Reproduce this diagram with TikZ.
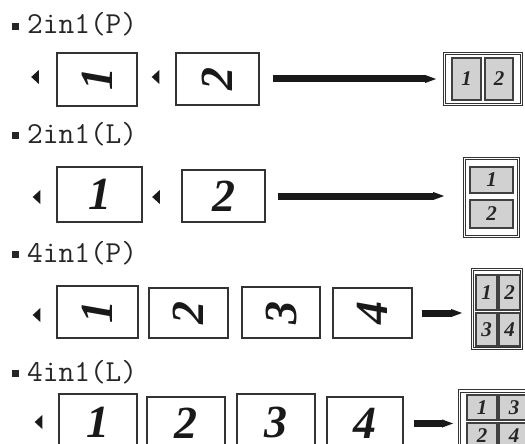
\documentclass[tikz,border=0pt]{standalone}
\usepackage{fontspec}
\setmainfont{Liberation Serif}
\usetikzlibrary{arrows.meta}
\newcommand\bigdig{\fontsize{46}{46}\selectfont\bfseries\itshape}
\newcommand\smdig{\fontsize{21}{21}\selectfont\bfseries\itshape}
\newcommand\lblsize{\ttfamily\fontsize{30.5}{30.5}\selectfont}
\tikzset{
  lbl/.style={anchor=base west, inner sep=0pt, font=\lblsize, text=black!85},
  bul/.style={fill=black!85, minimum size=7.5pt, inner sep=0pt},
  inpage/.style={draw=black!80, line width=1.2pt, inner sep=0pt, font=\bigdig, text=black!90},
  outbox/.style={draw=black!80, double, double distance=1.6pt, line width=0.8pt, inner sep=0pt},
  minipg/.style={draw=black!75, fill=black!18, line width=1.5pt, inner sep=0pt, font=\smdig, text=black!85},
  bar/.style={line width=7pt, draw=black!90, -{Triangle[length=12pt,width=7pt]}},
}
\newcommand\marker[1]{\fill[black!90] (#1) ++(-3.8,0) -- ++(7.6,-7) -- ++(0,14) -- cycle;}
\begin{document}
\begin{tikzpicture}[x=1pt,y=-1pt]
\useasboundingbox (0,0) rectangle (525,444);
\clip (0,0) rectangle (525,444);

% ---------- Row 1: 2in1(P)
\node[bul] (u1) at (15.5,26.5) {};
\node[lbl] (l1) at (27,34) {2in1(P)};
\coordinate (m11) at (35,77);
\coordinate (m12) at (155.5,77);
\marker{m11}\marker{m12}
\node[inpage, minimum width=80pt, minimum height=53pt] (a1) at (97,79.5) {\rotatebox{90}{1}};
\node[inpage, minimum width=83pt, minimum height=52pt] (a2) at (217.5,79) {\rotatebox{90}{2}};
\node[outbox, minimum width=77pt, minimum height=51pt] (ao) at (483,79) {};
\node[minipg, minimum width=29pt, minimum height=42pt] (ap1) at (466.5,79) {1};
\node[minipg, minimum width=28pt, minimum height=42pt] (ap2) at (499,79) {2};
\draw[bar, shorten <=13pt, shorten >=7pt] (a2.east) -- (a2.east -| ao.west);

% ---------- Row 2: 2in1(L)
\node[bul] (u2) at (15.5,135.5) {};
\node[lbl] (l2) at (27,143) {2in1(L)};
\coordinate (m21) at (36.5,197);
\coordinate (m22) at (156,197);
\marker{m21}\marker{m22}
\node[inpage, minimum width=85pt, minimum height=55pt] (b1) at (99.5,194.5) {1};
\node[inpage, minimum width=83pt, minimum height=52pt] (b2) at (223.5,196) {2};
\node[outbox, minimum width=54pt, minimum height=78pt] (bo) at (491.5,197.5) {};
\node[minipg, minimum width=43pt, minimum height=26pt] (bp1) at (491.5,180) {1};
\node[minipg, minimum width=43pt, minimum height=28pt] (bp2) at (491.5,214) {2};
\draw[bar, shorten <=12pt, shorten >=19pt] (b2.east) -- (b2.east -| bo.west);

% ---------- Row 3: 4in1(P)
\node[bul] (u3) at (15.5,254.5) {};
\node[lbl] (l3) at (27,262) {4in1(P)};
\coordinate (m31) at (36.5,315);
\marker{m31}
\node[inpage, minimum width=81pt, minimum height=52pt] (c1) at (97.5,312) {\rotatebox{90}{1}};
\node[inpage, minimum width=79pt, minimum height=50pt] (c2) at (188.5,313) {\rotatebox{90}{2}};
\node[inpage, minimum width=78pt, minimum height=51pt] (c3) at (281,312.5) {\rotatebox{90}{3}};
\node[inpage, minimum width=79pt, minimum height=50pt] (c4) at (372.5,313) {\rotatebox{90}{4}};
\node[outbox, minimum width=49pt, minimum height=79pt] (co) at (497,309) {};
\node[minipg, minimum width=21pt, minimum height=35pt] (cp1) at (486.5,292.5) {1};
\node[minipg, minimum width=21pt, minimum height=35pt] (cp2) at (509.5,292.5) {2};
\node[minipg, minimum width=21pt, minimum height=33pt] (cp3) at (486.5,329.5) {3};
\node[minipg, minimum width=21pt, minimum height=33pt] (cp4) at (509.5,329.5) {4};
\draw[bar, shorten <=9pt, shorten >=9pt] (c4.east) -- (c4.east -| co.west);

% ---------- Row 4: 4in1(L)
\node[bul] (u4) at (15.5,373.5) {};
\node[lbl] (l4) at (27,381) {4in1(L)};
\coordinate (m41) at (38.5,422);
\marker{m41}
\node[inpage, minimum width=78pt, minimum height=56pt] (d1) at (98,422) {1};
\node[inpage, minimum width=78pt, minimum height=53pt] (d2) at (186,423.5) {2};
\node[inpage, minimum width=78pt, minimum height=56pt] (d3) at (276,422) {3};
\node[inpage, minimum width=76pt, minimum height=53pt] (d4) at (365,423.5) {4};
\node[outbox, minimum width=79pt, minimum height=66pt] (do) at (499,424) {};
\node[minipg, minimum width=30pt, minimum height=25pt] (dp1) at (482,407.5) {1};
\node[minipg, minimum width=30pt, minimum height=25pt] (dp3) at (514,407.5) {3};
\node[minipg, minimum width=30pt, minimum height=25pt] (dp2) at (482,435.5) {2};
\node[minipg, minimum width=30pt, minimum height=25pt] (dp4) at (514,435.5) {4};
\draw[bar, shorten <=10pt, shorten >=5pt] (d4.east) -- (d4.east -| do.west);
\end{tikzpicture}
\end{document}
